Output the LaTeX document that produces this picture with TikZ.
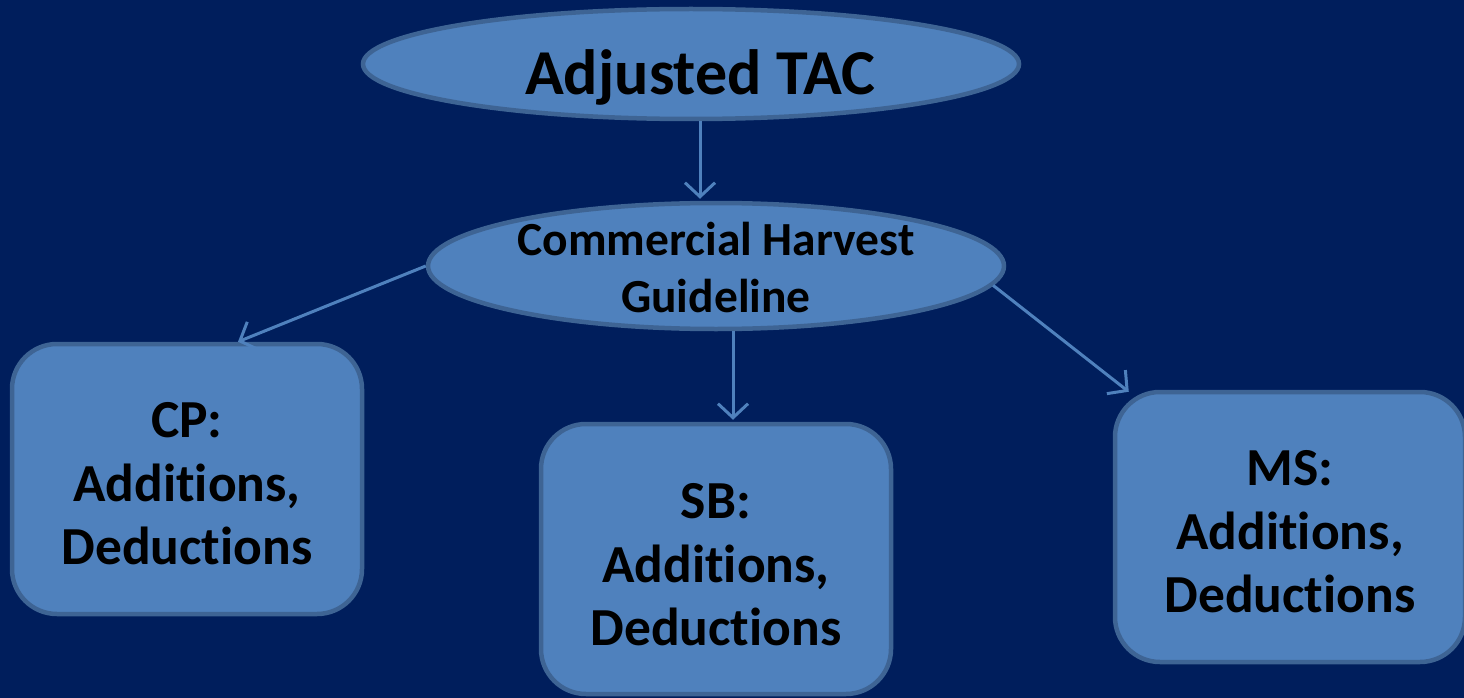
\documentclass[tikz,border=0pt]{standalone}
\usepackage{fontspec}
\setmainfont[RawFeature={-liga}]{Carlito}
\usetikzlibrary{shapes.geometric,arrows.meta,calc}
\definecolor{navy}{HTML}{001E5C}
\definecolor{fillblue}{HTML}{4F81BD}
\definecolor{edgeblue}{HTML}{3E6494}
\tikzset{
  shapebase/.style={fill=fillblue, draw=edgeblue, line width=4.5pt, inner sep=0pt},
  oval/.style={shapebase, ellipse},
  groupbox/.style={shapebase, rounded corners=45pt, minimum width=350pt, minimum height=270pt},
  boxtext/.style={align=center, inner sep=0pt, font=\fontsize{53.5}{63.5}\selectfont\bfseries},
  link/.style={draw=fillblue, line width=3pt, -{Straight Barb[length=14pt,width=30pt,line width=3pt]}}
}
\begin{document}
\begin{tikzpicture}[x=1pt,y=-1pt]
  \fill[navy] (0,0) rectangle (1464,698);
  \useasboundingbox (0,0) rectangle (1464,698);

  % top of the hierarchy
  \node[oval, minimum width=656pt, minimum height=110pt] (tac) at (691,64) {};
  \node[inner sep=0pt, font=\fontsize{64}{72}\selectfont\bfseries] (tactext) at (700,77) {Adjusted TAC};

  \node[oval, minimum width=576pt, minimum height=126pt] (chg) at (716,266) {};
  \node[align=center, inner sep=0pt, font=\fontsize{47.5}{57}\selectfont\bfseries] (chgtext) at (716,268)
    {Commercial Harvest\\Guideline};

  % the three groups
  \node[groupbox] (cp) at (187,479) {};
  \node[boxtext] (cptext) at (187,484) {CP:\\Additions,\\Deductions};
  \node[groupbox] (sb) at (716,559) {};
  \node[boxtext] (sbtext) at (716,565) {SB:\\Additions,\\Deductions};
  \node[groupbox] (ms) at (1290,527) {};
  \node[boxtext] (mstext) at (1290,532) {MS:\\Additions,\\Deductions};

  % connectors
  \draw[link] ($(tac.south)+(9,0)$) -- ($(chg.north)+(-16,-2)$);
  \draw[link] (chg.west) -- ($(cp.north)+(51,0)$);
  \draw[link] (chg.south) ++(17,0) -- ($(sb.north)+(17,-2)$);
  \draw[link] (chg.-4) -- ($(ms.north west)+(16,2)$);
\end{tikzpicture}
\end{document}
